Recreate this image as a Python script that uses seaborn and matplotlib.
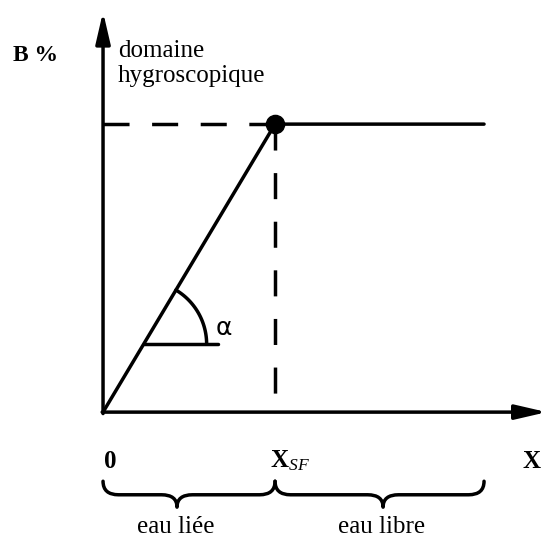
import numpy as np
import pandas as pd
import matplotlib
matplotlib.use("Agg")
import matplotlib.pyplot as plt
import seaborn as sns
from matplotlib.path import Path
from matplotlib.patches import PathPatch

# Sorption curve: B % against moisture X (schematic units, X_SF = 1, plateau = 1)
x_points = [0.0, 1.0, 2.215]
b_points = [0.0, 1.0, 1.0]
x_sf = 1.0
b_sf = 1.0
x_end = 2.215

zone_labels = ["eau liée", "eau libre"]
zone_bounds = [(0.0, x_sf), (x_sf, x_end)]
zone_centers = [0.43, 1.628]

sns.set_theme(style="white")
plt.rcParams["font.family"] = ["Liberation Serif", "DejaVu Serif"]
plt.rcParams["text.color"] = "black"
plt.rcParams["mathtext.fontset"] = "custom"
plt.rcParams["mathtext.rm"] = "Liberation Serif"
plt.rcParams["mathtext.it"] = "Liberation Serif:italic"
plt.rcParams["mathtext.bf"] = "Liberation Serif:bold"

fig = plt.figure(figsize=(5.47, 5.42), dpi=100)
ax = fig.add_axes([0, 0, 1, 1])
ax.set_xlim(-0.599, 2.581)
ax.set_ylim(-0.451, 1.431)
ax.axis("off")

lw = 2.5
fs = 18

# axes with arrows
arrow = dict(arrowstyle="-|>,head_length=0.95,head_width=0.22", color="black",
             lw=lw, mutation_scale=20, shrinkA=0, shrinkB=0)
ax.annotate("", xy=(0, 1.39), xytext=(0, -0.005), arrowprops=arrow)
ax.annotate("", xy=(2.58, 0), xytext=(-0.005, 0), arrowprops=arrow)

# dashed guides to the saturation point
ax.plot([0, x_sf], [b_sf, b_sf], color="black", lw=lw, ls=(0, (7.5, 6.5)))
ax.plot([x_sf, x_sf], [b_sf, 0], color="black", lw=lw, ls=(0, (7.5, 6.5)))

# curve and saturation point
df = pd.DataFrame({"X": x_points, "B": b_points})
sns.lineplot(data=df, x="X", y="B", color="black", lw=lw, ax=ax, sort=False)
sns.scatterplot(x=[x_sf], y=[b_sf], color="black", s=170, ax=ax, zorder=5,
                edgecolor="black")

# angle alpha
ay = 0.236
ax.plot([ay, 0.669], [ay, ay], color="black", lw=lw)
t = np.linspace(0, np.arctan2(288, 172), 60)
r_px = 63
ax.plot(ay + r_px / 172 * np.cos(t), ay + r_px / 288 * np.sin(t), color="black", lw=lw)
ax.text(0.70, 0.292, "α", fontsize=fs, ha="center", va="center",
        family=["DejaVu Sans"])

# labels
ax.text(-0.523, 1.240, "B %", fontsize=17, fontweight="bold", ha="left", va="center")
ax.text(0.087, 1.233, "domaine", fontsize=fs, ha="left", va="baseline")
ax.text(0.087, 1.146, "hygroscopique", fontsize=fs, ha="left", va="baseline")
ax.text(0.041, -0.170, "0", fontsize=fs, fontweight="bold", ha="center", va="center")
ax.text(0.971, -0.170, r"$\mathbf{X}_{SF}$", fontsize=fs, ha="left", va="center")
ax.text(2.436, -0.170, "X", fontsize=fs, fontweight="bold", ha="left", va="center")


def brace(x0, x1, xm, ytop, yflat, ybot, r):
    verts = [(x0, ytop), (x0, yflat), (x0 + r, yflat),
             (xm - r, yflat), (xm, yflat), (xm, ybot),
             (xm, yflat), (xm + r, yflat),
             (x1 - r, yflat), (x1, yflat), (x1, ytop)]
    codes = [Path.MOVETO, Path.CURVE3, Path.CURVE3,
             Path.LINETO, Path.CURVE3, Path.CURVE3,
             Path.CURVE3, Path.CURVE3,
             Path.LINETO, Path.CURVE3, Path.CURVE3]
    return PathPatch(Path(verts, codes), fill=False, lw=lw, color="black",
                     capstyle="round", joinstyle="round")


for (x0, x1), xm, label in zip(zone_bounds, zone_centers, zone_labels):
    ax.add_patch(brace(x0, x1, xm, -0.240, -0.287, -0.330, 0.09))
    ax.text(xm - 0.01, -0.399, label, fontsize=fs, ha="center", va="center")

fig.savefig("out.png", dpi=100)
